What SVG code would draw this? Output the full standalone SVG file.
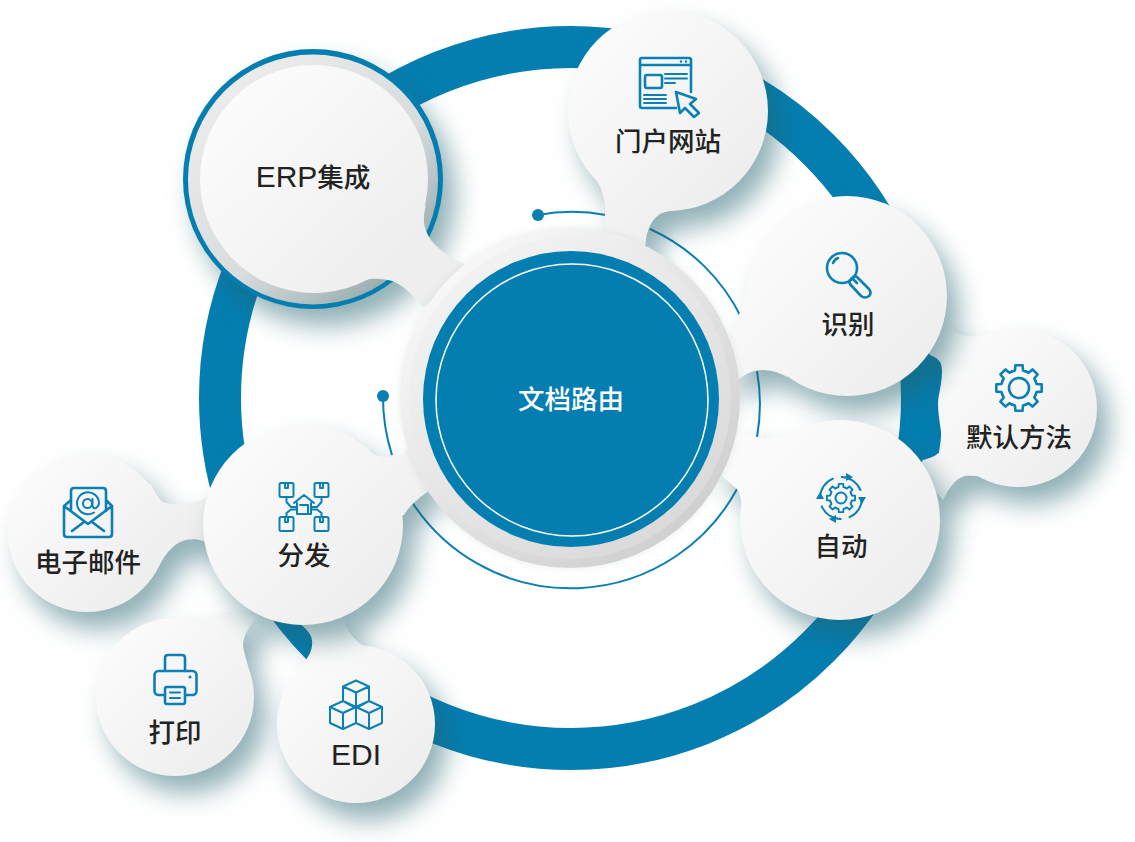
<svg xmlns="http://www.w3.org/2000/svg" width="1135" height="842" viewBox="0 0 1135 842">
<style>
.t{font-family:"Noto Sans CJK SC","Noto Sans",sans-serif;font-size:26.500px;font-weight:500;fill:#222;text-anchor:middle}
.l{font-family:"Liberation Sans",sans-serif;font-size:30px;font-weight:400}
.w{fill:#fff}
.i{fill:none;stroke:#0a80b4;stroke-width:2.600;stroke-linejoin:round;stroke-linecap:round}
.n{stroke-width:2}
.ib{fill:#f3f3f3;stroke:#0a80b4;stroke-width:2.600;stroke-linejoin:round;stroke-linecap:round}
.a{fill:none;stroke:#0a7fb2;stroke-width:2}
.sh{filter:url(#shadow)}
</style>
<defs>
<filter id="shadow" filterUnits="userSpaceOnUse" x="0" y="0" width="1135" height="842" color-interpolation-filters="sRGB">
<feDropShadow dx="12" dy="17" stdDeviation="13" flood-color="#22626e" flood-opacity="0.5"/>
</filter>
<filter id="soft" filterUnits="userSpaceOnUse" x="0" y="0" width="1135" height="842" color-interpolation-filters="sRGB">
<feDropShadow dx="0" dy="0" stdDeviation="4" flood-color="#90a8aa" flood-opacity="0.2"/>
</filter>
<linearGradient id="st"><stop offset="0" stop-color="#fbfbfb"/><stop offset="1" stop-color="#eeeeee"/></linearGradient>
<linearGradient id="g1" href="#st" gradientUnits="userSpaceOnUse" x1="240" y1="105" x2="395" y2="265"/>
<linearGradient id="g2" href="#st" gradientUnits="userSpaceOnUse" x1="598" y1="41" x2="738" y2="181"/>
<linearGradient id="g3" href="#st" gradientUnits="userSpaceOnUse" x1="777" y1="226" x2="917" y2="366"/>
<linearGradient id="g4" href="#st" gradientUnits="userSpaceOnUse" x1="962" y1="352" x2="1074" y2="464"/>
<linearGradient id="g5" href="#st" gradientUnits="userSpaceOnUse" x1="770" y1="450" x2="910" y2="590"/>
<linearGradient id="g6" href="#st" gradientUnits="userSpaceOnUse" x1="233" y1="455" x2="373" y2="595"/>
<linearGradient id="g7" href="#st" gradientUnits="userSpaceOnUse" x1="31" y1="477" x2="143" y2="589"/>
<linearGradient id="g8" href="#st" gradientUnits="userSpaceOnUse" x1="119" y1="641" x2="231" y2="753"/>
<linearGradient id="g9" href="#st" gradientUnits="userSpaceOnUse" x1="300" y1="668" x2="412" y2="780"/>
<linearGradient id="lip" x1="0.15" y1="0.1" x2="0.85" y2="0.9"><stop offset="0" stop-color="#ececec"/><stop offset="0.6" stop-color="#d8dcdc"/><stop offset="1" stop-color="#95abad"/></linearGradient>
<linearGradient id="d1" x1="0.15" y1="0.1" x2="0.85" y2="0.9"><stop offset="0" stop-color="#f8f8f8"/><stop offset="1" stop-color="#cfcfcf"/></linearGradient>
<linearGradient id="d2" x1="0.2" y1="0.1" x2="0.8" y2="0.9"><stop offset="0" stop-color="#f2f2f2"/><stop offset="1" stop-color="#dadada"/></linearGradient>
<path id="tooth" d="M-6.900,-16.600L-4.050,-17.500L-3.600,-22.700H3.600L4.050,-17.500L6.900,-16.600"/>
<g id="gear">
<use href="#tooth"/>
<use href="#tooth" transform="rotate(45)"/>
<use href="#tooth" transform="rotate(90)"/>
<use href="#tooth" transform="rotate(135)"/>
<use href="#tooth" transform="rotate(180)"/>
<use href="#tooth" transform="rotate(225)"/>
<use href="#tooth" transform="rotate(270)"/>
<use href="#tooth" transform="rotate(315)"/>
</g>
</defs>

<rect width="1135" height="842" fill="#fff"/>
<circle id="ring" cx="571" cy="398" r="351" fill="none" stroke="#047eb1" stroke-width="42"/>

<g id="connectors">
<path class="a" d="M538,215A188,188 0 0 1 606,215"/>
<circle cx="538" cy="215" r="6" fill="#0a7fb2"/>
<path class="a" d="M650,229A188,188 0 0 1 742,319"/>
<path class="a" d="M757,371A188,188 0 0 1 757,437"/>
<path class="a" d="M737,489A189,189 0 0 1 412,502"/>
<path class="a" d="M383,396A188,188 0 0 0 392,455"/>
<circle cx="383" cy="396" r="6" fill="#0a7fb2"/>
</g>

<g id="node-default">
<g class="sh" fill="url(#g4)">
<path d="M945,320C950,330 958,336 968,336C975,336 983,335 989,334L1018,408L1000,480C985,477 973,475 965,476C955,478 948,490 943,500L915,470L923,460C930,458 940,455 942,448C943,435 938,420 938,403C938,395 942,385 942,370C942,362 938,358 930,355L920,340Z"/>
<circle cx="1018" cy="408" r="79"/>
</g>
<use href="#gear" class="i" transform="translate(1019,388)"/>
<circle class="i" cx="1019" cy="388" r="10"/>
<text class="t" x="1019" y="446.500">默认方法</text>
</g>

<g id="node-email">
<g class="sh" fill="url(#g7)">
<path d="M150,483C155,492 158,498 163,502C172,505 182,505 190,503C197,502 202,500 207,497L215,541C210,541 205,541 203,541C195,538 180,538 170,550C166,554 162,560 155,574L87,533Z"/>
<circle cx="87" cy="533" r="79"/>
</g>
<path class="i" d="M71,511V491Q71,488 74,488H103Q106,488 106,491V511M71,500L64,506V534Q64,537 67,537H109Q112,537 112,534V506L106,500M64,506L88,524L112,506M72,531L84,522M104,531L92,522"/>
<circle class="i n" cx="87.500" cy="503.500" r="4.500"/>
<path class="i n" d="M92.500,499V505.500Q93,509 96,508Q99,506 99,503A11,11 0 1 0 94,512.500"/>
<text class="t" x="88" y="571.500">电子邮件</text>
</g>

<g id="node-print">
<g class="sh" fill="url(#g8)">
<path d="M196,621C208,620 215,617 222,612L262,610C250,625 243,635 243,645C244,655 248,662 250,676L175,697Z"/>
<circle cx="175" cy="697" r="79"/>
</g>
<path class="i" d="M165,671V658Q165,655 168,655H182Q185,655 185,658V671"/>
<rect class="i" x="154.500" y="671" width="42" height="24" rx="4"/>
<rect class="ib" x="165" y="687" width="20" height="17" rx="2"/>
<path class="i n" d="M170,692.500H180M170,698H180"/>
<circle cx="190" cy="677" r="1.500" fill="#0a80b4"/>
<text class="t" x="175" y="741.500">打印</text>
</g>

<g id="node-edi">
<g class="sh" fill="url(#g9)">
<path d="M303,664C310,655 313,648 312,640C311,633 305,628 298,622L343,615C345,625 350,637 362,645L356,724Z"/>
<circle cx="356" cy="724" r="79"/>
</g>
<path class="i n" d="M356,680.500L369,686.500V701L356,708L343,701V686.500ZM343,686.500L356,692.500L369,686.500M356,692.500V708M343,701L330,707V723L343,729L356,723V707L343,701M330,707L343,713L356,707M343,713V729M369,701L356,707M369,701L382,707V723L369,729L356,723M356,707L369,713L382,707M369,713V729"/>
<text class="t l" x="356" y="764.500">EDI</text>
</g>

<g id="node-erp">
<g class="sh">
<circle cx="313" cy="179" r="130" fill="#047eb1"/>
</g>
<circle cx="313" cy="179.500" r="125" fill="url(#lip)"/>
<g fill="url(#g1)">
<path d="M426,205C423,215 423,225 427,233C432,245 445,255 463,263L480,300L423,307C410,292 400,282 388,280C378,279 372,278 367,280L340,250Z"/>
<circle cx="314" cy="179" r="114"/>
</g>
<text class="t" x="313" y="187"><tspan class="l">ERP</tspan>集成</text>
</g>

<g id="node-portal">
<g class="sh" fill="url(#g2)">
<path d="M597,181C603,190 606,205 605,215L603,235L645,250C646,235 648,222 660,214C668,210 680,210 695,207L668,111Z"/>
<circle cx="668" cy="111" r="100"/>
</g>
<path class="i" d="M676,108H642Q640,108 640,106V60Q640,58 642,58H689Q691,58 691,60V92M640,65H691"/>
<circle cx="681" cy="61.500" r="1.200" fill="#0a80b4"/><circle cx="686" cy="61.500" r="1.200" fill="#0a80b4"/>
<rect class="i" x="645" y="75" width="17" height="13" rx="2"/>
<path class="i n" d="M665,74H687M665,78.500H687M665,83H675M644,95H666M644,99H666M644,103H666"/>
<path class="ib" d="M676,92L696,99L690,104L699,113L694,117L685,108L680,113Z"/>
<text class="t" x="668" y="150.500">门户网站</text>
</g>

<g id="node-distribute">
<g class="sh" fill="url(#g6)">
<path d="M375,455C385,458 395,458 405,452L420,440L430,490C420,497 410,505 404,515L303,525Z"/>
<circle cx="303" cy="525" r="100"/>
</g>
<g class="i n">
<rect x="279.500" y="483" width="14" height="14" rx="1.500"/><rect x="314.500" y="483" width="14" height="14" rx="1.500"/>
<rect x="279.500" y="517" width="14" height="14" rx="1.500"/><rect x="314.500" y="517" width="14" height="14" rx="1.500"/>
<path d="M294,503L304,495L314,503M297,503V514H311V503M300,505H308V514M285,483V488H288V483M320,483V488H323V483M285,517V522H288V517M320,517V522H323V517"/>
<path d="M286.500,497V502L291,507H297M321.500,497V502L317,507H311M286.500,517V513L291,509.500H297M321.500,517V513L317,509.500H311"/>
</g>
<text class="t" x="304" y="564.500">分发</text>
</g>

<g id="node-identify">
<g class="sh" fill="url(#g3)">
<path d="M750,270C748,290 745,305 735,322L725,378L737,381C745,373 755,370 763,370C772,370 780,373 787,377L847,296Z"/>
<circle cx="847" cy="296" r="100"/>
</g>
<circle class="i" cx="842" cy="268" r="15"/>
<path class="i" d="M853,279L857,283M857,277L869,289Q872,293 869,296Q865,299 861,296L850,284Q848,281 851,279Q854,275 857,277ZM833,263Q835,259 838,258"/>
<text class="t" x="848" y="333.500">识别</text>
</g>

<g id="node-auto">
<g class="sh" fill="url(#g5)">
<path d="M790,433C778,437 768,440 757,437C750,435 742,430 735,427L715,470L737,489C742,497 743,510 741,530L840,520Z"/>
<circle cx="840" cy="520" r="100"/>
</g>
<use href="#gear" class="i" style="stroke-width:3" transform="translate(841,498) scale(.62)"/>
<circle class="i n" cx="841" cy="498" r="5.500"/>
<circle class="i n" cx="841" cy="498" r="21" stroke-dasharray="24 9"/>
<path fill="#0a80b4" d="M846,473L846,481L853,477ZM866,497L858,497L862,504ZM836,523L836,515L829,519ZM816,499L824,499L820,492Z"/>
<text class="t" x="841" y="555.500">自动</text>
</g>

<g id="node-center">
<circle cx="570" cy="398" r="170" fill="url(#d1)" filter="url(#soft)"/>
<circle cx="570" cy="398" r="161" fill="url(#d2)"/>
<circle cx="571" cy="399" r="148" fill="#047eb1"/>
<circle cx="572" cy="400" r="136" fill="none" stroke="#fff" stroke-width="1.500"/>
<text class="t w" x="571" y="408.500">文档路由</text>
</g>
</svg>
